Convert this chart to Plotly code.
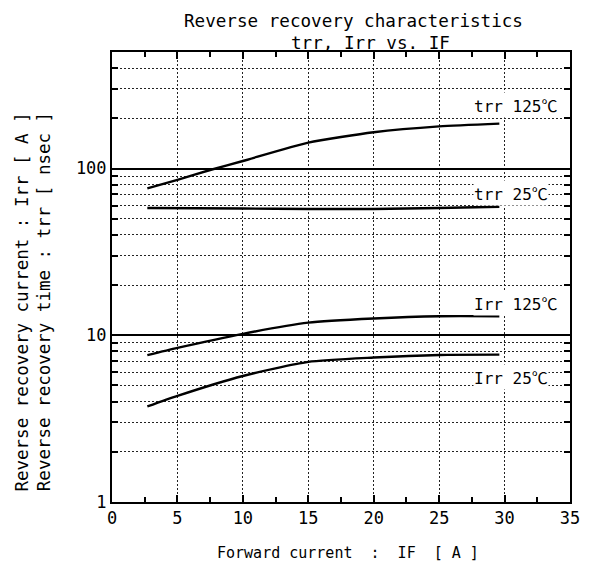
import math
import plotly.graph_objects as go

# ---- data ----
if_trr125 = [2.7, 5, 7.5, 10, 15, 20, 25, 29.6]
trr125 = [76, 85.5, 98, 111, 143, 165, 179, 186]

if_trr25 = [2.7, 10, 15, 20, 25, 29.6]
trr25 = [58, 57.6, 57.2, 57.2, 58, 59]

if_irr125 = [2.7, 5, 10, 15, 20, 25, 29.6]
irr125 = [7.6, 8.4, 10.2, 11.9, 12.6, 13.0, 13.0]

if_irr25 = [2.7, 5, 10, 15, 20, 25, 29.6]
irr25 = [3.74, 4.33, 5.7, 6.92, 7.35, 7.62, 7.65]

curve_names = ["trr 125", "trr 25", "Irr 125", "Irr 25"]
label_y = [241, 71.5, 15.7, 5.6]

x_ticks = [0, 5, 10, 15, 20, 25, 30, 35]
y_ticks = [1, 10, 100]
y_ticktext = ["1", "10", "100"]

FONT = "DejaVu Sans Mono"
W, H = 592, 568
L, R, T, B = 112, 14, 52, 66
pw, ph = W - L - R, H - T - B

def px_x(p):
    return (p - L) / pw

def px_y(p):
    return (H - B - p) / ph

fig = go.Figure()
for xs, ys in [(if_trr125, trr125), (if_trr25, trr25), (if_irr125, irr125), (if_irr25, irr25)]:
    fig.add_trace(go.Scatter(x=xs, y=ys, mode="lines",
                             line=dict(color="black", width=2.4, shape="spline", smoothing=0.6),
                             showlegend=False, hoverinfo="skip"))

minor_y = [m * 10 ** e for e in range(0, 3) for m in range(2, 10)]
minor_y = [v for v in minor_y if v < 500]

fig.update_xaxes(range=[0, 35], tickvals=x_ticks, ticktext=[str(v) for v in x_ticks],
                 showline=True, linecolor="black", linewidth=2, mirror="ticks",
                 ticks="inside", ticklen=7, tickwidth=1.5, tickcolor="black",
                 showgrid=True, gridcolor="#222", gridwidth=1, griddash="2px,2px",
                 minor=dict(tickvals=[2.5, 7.5, 12.5, 17.5, 22.5, 27.5, 32.5], ticks="inside",
                            ticklen=5, tickwidth=1.5, tickcolor="black", showgrid=False),
                 tickfont=dict(family=FONT, size=17, color="black"), zeroline=False)

fig.update_yaxes(type="log", range=[0, 2.699], tickvals=y_ticks, ticktext=y_ticktext,
                 showline=True, linecolor="black", linewidth=2, mirror="ticks",
                 ticks="inside", ticklen=7, tickwidth=1.5, tickcolor="black",
                 showgrid=True, gridcolor="black", gridwidth=1.6,
                 minor=dict(tickvals=minor_y, ticks="inside", ticklen=6, tickwidth=1.5,
                            tickcolor="black", showgrid=True, gridcolor="#222",
                            gridwidth=1, griddash="2px,2px"),
                 tickfont=dict(family=FONT, size=17, color="black"), zeroline=False)

DEG = "<span style=\"font-family:'Noto Sans CJK JP'\">℃</span>"
annotations = []
for name, yv in zip(curve_names, label_y):
    annotations.append(dict(x=27.55, y=math.log10(yv), xref="x", yref="y",
                            text=name + DEG, showarrow=False, xanchor="left", yanchor="middle",
                            bgcolor="white", borderpad=0,
                            font=dict(family=FONT, size=16, color="black")))

annotations += [
    dict(x=px_x(358), y=px_y(21), xref="paper", yref="paper", text="Reverse recovery characteristics",
         showarrow=False, xanchor="center", yanchor="middle", font=dict(family=FONT, size=17.6, color="black")),
    dict(x=px_x(375), y=px_y(43), xref="paper", yref="paper", text="trr, Irr vs. IF",
         showarrow=False, xanchor="center", yanchor="middle", font=dict(family=FONT, size=17.6, color="black")),
    dict(x=px_x(352), y=px_y(553), xref="paper", yref="paper", text="Forward current  :  IF  [ A ]",
         showarrow=False, xanchor="center", yanchor="middle", font=dict(family=FONT, size=15, color="black")),
    dict(x=px_x(20), y=px_y(302), xref="paper", yref="paper", text="Reverse recovery current : Irr [ A ]",
         showarrow=False, textangle=-90, xanchor="center", yanchor="middle",
         font=dict(family=FONT, size=17.5, color="black")),
    dict(x=px_x(43), y=px_y(302), xref="paper", yref="paper", text="Reverse recovery time : trr [ nsec ]",
         showarrow=False, textangle=-90, xanchor="center", yanchor="middle",
         font=dict(family=FONT, size=17.5, color="black")),
]

fig.update_layout(width=W, height=H, margin=dict(l=L, r=R, t=T, b=B),
                  paper_bgcolor="white", plot_bgcolor="white",
                  annotations=annotations, showlegend=False)

fig.write_html("out.html", config={"displayModeBar": False},
               post_script="document.body.style.margin='0';")
